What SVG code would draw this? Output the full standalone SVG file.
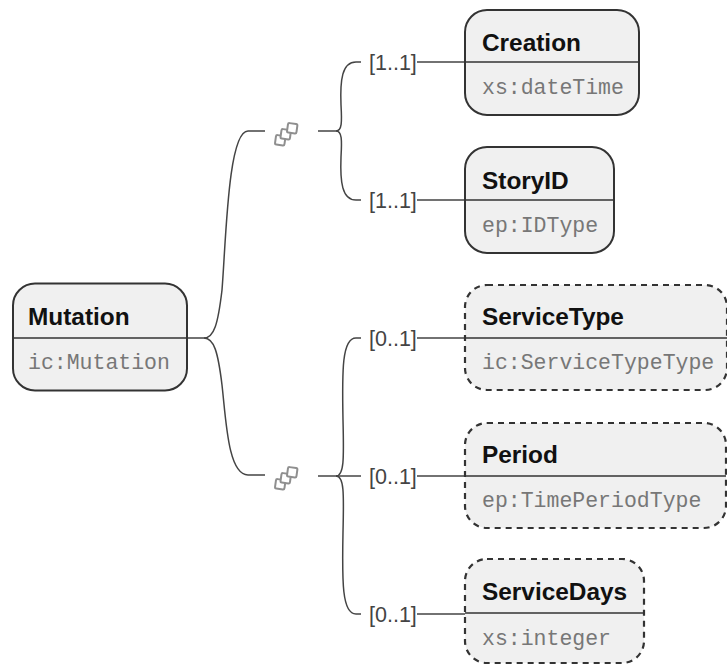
<svg xmlns="http://www.w3.org/2000/svg" width="727" height="664" viewBox="0 0 727 664">
<defs>
<g id="seq"><g fill="#fff" stroke="#8f8f8f" stroke-width="2"><rect x="-5.500" y="0.500" width="9.500" height="9.500" rx="1.500" transform="rotate(8 -1 5)"/><rect x="0" y="-5.500" width="9.500" height="9.500" rx="1.500" transform="rotate(8 4.500 -1)"/><rect x="6.500" y="-11.500" width="9.500" height="9.500" rx="1.500" transform="rotate(8 11 -7)"/></g></g>
</defs>
<style>
.box{fill:#f0f0f0;stroke:#333;stroke-width:2}
.dash{stroke-dasharray:6 5;stroke-width:2.200}
.div{stroke:#333;stroke-width:1.500;fill:none}
.name{font:bold 24.400px "Liberation Sans",Arial,sans-serif;fill:#111}
.type{font:21.500px "Liberation Mono","Courier New",monospace;fill:#777}
.card{font:21.500px "Liberation Sans",Arial,sans-serif;fill:#444}
.c{fill:none;stroke:#444;stroke-width:1.500}
</style>
<g id="connectors">
<path class="c" d="M187 338H204C214 338 218 324 222 290C226 240 228 131 248 131H265"/>
<path class="c" d="M204 338C214 338 218 352 222 385C226 420 228 475 248 475H265"/>
<path class="c" d="M318 131H336C342 131 342 122 341 105C340 80 342 62 356 62H361"/>
<path class="c" d="M336 131C342 131 342 140 341 157C340 182 342 200 356 200H361"/>
<path class="c" d="M417 62H465M417 200H465M417 338H465M417 476H465M417 614H465"/>
<path class="c" d="M318 476H361"/>
<path class="c" d="M336 476C344 476 344 460 343 420C342 370 342 338 356 338H361"/>
<path class="c" d="M336 476C344 476 344 492 343 532C342 582 342 614 356 614H361"/>
</g>
<g id="seq1"><use href="#seq" x="281" y="135"/></g>
<g id="seq2"><use href="#seq" x="281" y="479"/></g>
<g id="cards">
<text class="card" x="369" y="70">[1..1]</text>
<text class="card" x="369" y="208">[1..1]</text>
<text class="card" x="369" y="346">[0..1]</text>
<text class="card" x="369" y="484">[0..1]</text>
<text class="card" x="369" y="622">[0..1]</text>
</g>
<g id="mutation"><rect class="box" x="13" y="283.500" width="174" height="107" rx="22"/><path class="div" d="M13 338H187"/><text class="name" x="28" y="325">Mutation</text><text class="type" x="28" y="369">ic:Mutation</text></g>
<g id="creation"><rect class="box" x="465" y="10" width="174" height="105" rx="22"/><path class="div" d="M465 62H639"/><text class="name" x="482" y="51">Creation</text><text class="type" x="482" y="94">xs:dateTime</text></g>
<g id="storyid"><rect class="box" x="465" y="147" width="149" height="106" rx="22"/><path class="div" d="M465 200H614"/><text class="name" x="482" y="189">StoryID</text><text class="type" x="482" y="232">ep:IDType</text></g>
<g id="servicetype"><rect class="box dash" x="465" y="285" width="262" height="105" rx="22"/><path class="div" d="M465 338H727"/><text class="name" x="482" y="325">ServiceType</text><text class="type" x="482" y="369">ic:ServiceTypeType</text></g>
<g id="period"><rect class="box dash" x="465" y="423" width="261" height="105" rx="22"/><path class="div" d="M465 476H726"/><text class="name" x="482" y="463">Period</text><text class="type" x="482" y="507">ep:TimePeriodType</text></g>
<g id="servicedays"><rect class="box dash" x="465" y="559" width="179" height="104" rx="22"/><path class="div" d="M465 613H644"/><text class="name" x="482" y="600">ServiceDays</text><text class="type" x="482" y="645">xs:integer</text></g>
</svg>
